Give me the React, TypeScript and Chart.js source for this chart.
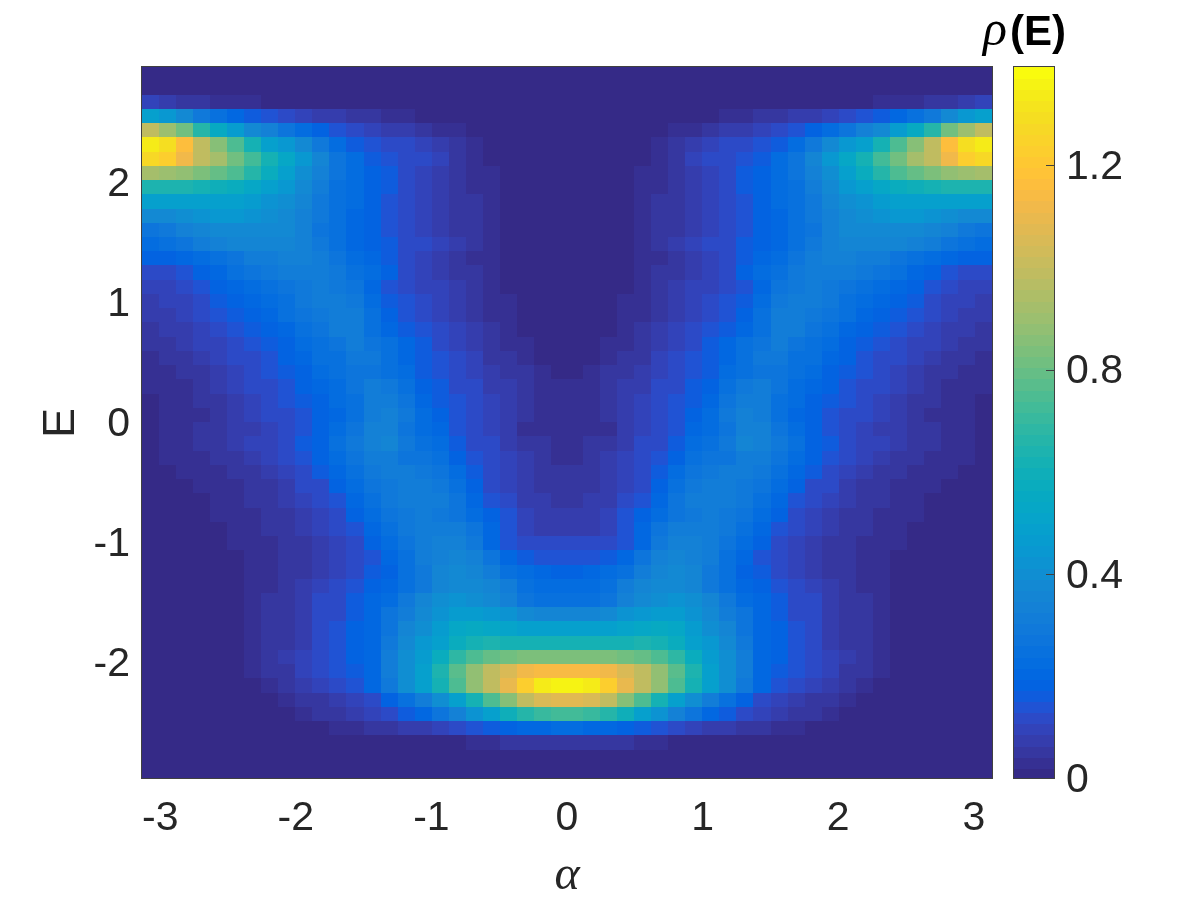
import React, { useEffect, useRef } from "react";
import { Chart, registerables } from "chart.js";

Chart.register(...registerables);

const alphaRange = [-Math.PI, Math.PI];
const energyRange = [-2.965, 2.965];
const rhoMax = 1.392;
const alphaTicks = [-3, -2, -1, 0, 1, 2, 3];
const energyTicks = [-2, -1, 0, 1, 2];
const rhoTicks = [0, 0.4, 0.8, 1.2];
const xTitle = "α";
const yTitle = "E";

// rho(E, alpha) x 100. One row per E step (top to bottom),
// each row from alpha = 0 out to alpha = pi. The picture is mirror-symmetric in alpha.
const rhoRows: number[][] = [
  [1,1,1,1,1,1,1,1,1,1,1,1,1,1,1,1,1,1,1,1,1,1,1,1,1],
  [1,1,1,1,1,1,1,1,1,1,1,1,1,1,1,1,1,1,1,1,1,1,1,1,1],
  [1,1,1,1,1,1,1,1,1,1,1,1,1,1,1,1,1,2,3,3,4,5,6,8,10],
  [1,1,1,1,1,1,1,1,2,3,4,5,6,7,8,9,11,14,16,20,24,29,38,44,48],
  [1,1,1,1,1,1,3,4,6,7,8,10,12,15,18,22,28,33,38,46,55,66,82,90,100],
  [1,1,1,1,2,3,5,7,9,11,13,15,17,23,30,38,44,50,62,74,86,100,116,130,133],
  [1,1,1,1,2,4,6,9,11,12,14,17,22,28,36,44,54,62,72,82,92,100,112,122,128],
  [1,1,1,1,3,4,6,8,9,12,16,19,23,28,34,40,50,57,66,75,80,84,88,90,92],
  [1,1,1,1,3,4,6,8,10,13,16,18,22,26,32,37,44,49,54,58,60,63,64,64,64],
  [1,1,1,1,3,5,6,8,10,13,15,18,22,26,30,35,40,43,46,48,49,50,50,49,48],
  [1,1,1,2,3,5,6,8,10,13,15,18,21,25,29,34,38,41,43,44,44,43,41,39,37],
  [1,1,1,2,3,5,6,8,10,13,15,18,21,24,28,33,37,39,39,39,38,36,33,30,28],
  [1,1,1,2,4,5,7,9,11,13,16,18,21,25,29,34,36,36,36,35,33,31,27,25,23],
  [1,1,1,1,3,4,6,7,9,11,17,20,23,27,31,33,33,32,31,28,25,23,20,19,18],
  [1,1,1,2,3,5,6,8,10,12,18,22,26,29,32,32,31,29,27,24,21,18,15,13,12],
  [1,1,1,2,4,5,7,9,10,12,15,21,27,30,31,30,28,25,23,20,18,15,12,10,9],
  [1,1,1,3,4,5,7,9,11,14,17,22,30,31,31,29,26,23,21,18,16,13,10,9,8],
  [1,1,2,3,4,6,8,10,12,15,18,24,31,31,30,27,24,21,18,16,14,11,9,8,7],
  [1,1,2,4,5,7,9,12,14,17,20,25,32,31,28,25,21,18,16,14,12,10,8,7,6],
  [1,2,3,4,6,8,10,13,16,20,24,28,31,28,26,23,19,17,14,12,10,9,7,6,5],
  [1,2,3,5,6,9,11,14,17,20,25,29,29,26,24,21,18,15,13,11,9,7,6,5,4],
  [1,3,5,6,7,10,12,14,17,22,26,28,28,25,22,19,16,14,12,10,8,6,5,4,3],
  [3,4,5,7,8,11,13,16,19,24,29,31,27,23,20,18,15,12,11,9,7,5,4,3,3],
  [3,4,6,7,9,12,14,17,21,27,31,31,26,22,19,16,14,11,10,8,6,5,4,3,2],
  [3,4,5,8,10,13,15,19,23,29,33,32,25,21,18,15,13,11,9,7,6,4,3,3,2],
  [3,3,4,7,10,12,14,20,23,28,34,33,27,22,18,15,12,10,8,7,6,5,4,3,2],
  [4,5,5,8,11,13,16,22,26,30,35,34,29,24,19,16,13,10,9,7,5,5,4,3,2],
  [4,5,7,9,11,14,19,25,27,28,31,31,27,23,18,15,12,9,8,6,5,4,3,3,1],
  [5,5,7,9,12,16,22,27,29,31,31,29,25,21,16,12,9,7,6,5,4,3,3,2,1],
  [5,6,7,10,13,18,24,29,31,32,30,28,23,18,13,11,8,6,5,4,3,3,2,1,1],
  [6,7,8,11,15,20,27,31,32,31,29,26,21,15,11,9,7,6,5,4,3,2,2,1,1],
  [7,7,9,14,18,22,27,30,31,30,28,23,18,13,10,8,6,5,4,3,3,2,1,1,1],
  [8,8,10,15,21,27,31,32,32,29,25,20,15,11,9,7,5,5,4,3,2,1,1,1,1],
  [11,11,12,14,21,29,33,33,31,28,23,18,13,10,8,6,5,4,3,3,2,1,1,1,1],
  [14,15,17,21,28,33,35,34,31,26,21,15,11,9,7,6,5,4,3,2,2,1,1,1,1],
  [19,20,22,26,31,36,37,35,30,25,19,17,13,10,8,6,5,4,3,1,1,1,1,1,1],
  [22,22,26,31,36,39,39,36,30,25,21,18,14,11,9,7,5,4,3,2,1,1,1,1,1],
  [26,26,28,33,37,40,42,41,36,30,23,20,17,13,11,8,6,5,3,2,1,1,1,1,1],
  [36,36,38,42,45,47,47,43,38,32,27,20,17,13,11,8,6,5,3,2,1,1,1,1,1],
  [48,49,50,52,54,55,53,47,41,35,28,20,18,14,11,8,6,5,3,2,1,1,1,1,1],
  [62,62,63,63,64,63,58,50,44,37,29,21,18,15,12,8,6,5,3,2,1,1,1,1,1],
  [84,84,83,82,80,75,68,57,47,40,31,21,18,15,12,9,7,5,3,2,1,1,1,1,1],
  [114,114,112,106,98,88,77,64,50,40,31,21,17,14,12,9,6,5,3,2,1,1,1,1,1],
  [136,133,122,110,100,88,76,62,50,40,30,20,15,12,9,7,5,3,2,1,1,1,1,1,1],
  [108,105,98,86,74,62,50,40,31,24,18,13,10,8,6,5,3,2,1,1,1,1,1,1,1],
  [72,70,66,59,50,42,34,27,21,16,12,9,8,6,5,4,2,1,1,1,1,1,1,1,1],
  [22,21,20,19,17,15,12,10,8,7,6,5,4,3,2,1,1,1,1,1,1,1,1,1,1],
  [6,6,5,5,4,3,2,2,1,1,1,1,1,1,1,1,1,1,1,1,1,1,1,1,1],
  [1,1,1,1,1,1,1,1,1,1,1,1,1,1,1,1,1,1,1,1,1,1,1,1,1],
  [1,1,1,1,1,1,1,1,1,1,1,1,1,1,1,1,1,1,1,1,1,1,1,1,1],
];

const PARULA: number[][] = [
  [0.2081,0.1663,0.5292],[0.2116,0.1898,0.5777],[0.2123,0.2138,0.627],[0.2081,0.2386,0.6771],
  [0.1959,0.2645,0.7279],[0.1707,0.2919,0.7792],[0.1253,0.3242,0.8303],[0.0591,0.3598,0.8683],
  [0.0117,0.3875,0.882],[0.006,0.4086,0.8828],[0.0165,0.4266,0.8786],[0.0329,0.443,0.872],
  [0.0498,0.4586,0.8641],[0.0629,0.4737,0.8554],[0.0723,0.4887,0.8467],[0.0779,0.504,0.8384],
  [0.0793,0.52,0.8312],[0.0749,0.5375,0.8263],[0.0641,0.557,0.824],[0.0488,0.5772,0.8228],
  [0.0343,0.5966,0.8199],[0.0265,0.6137,0.8135],[0.0239,0.6287,0.8038],[0.0231,0.6418,0.7913],
  [0.0228,0.6535,0.7768],[0.0267,0.6642,0.7607],[0.0384,0.6743,0.7436],[0.059,0.6838,0.7254],
  [0.0843,0.6928,0.7062],[0.1133,0.7015,0.6859],[0.1453,0.7098,0.6646],[0.1801,0.7177,0.6424],
  [0.2178,0.725,0.6193],[0.2586,0.7317,0.5954],[0.3022,0.7376,0.5712],[0.3482,0.7424,0.5473],
  [0.3953,0.7459,0.5244],[0.442,0.7481,0.5033],[0.4871,0.7491,0.484],[0.53,0.7491,0.4661],
  [0.5709,0.7485,0.4494],[0.6099,0.7473,0.4337],[0.6473,0.7456,0.4188],[0.6834,0.7435,0.4044],
  [0.7184,0.7411,0.3905],[0.7525,0.7384,0.3768],[0.7858,0.7356,0.3633],[0.8185,0.7327,0.3498],
  [0.8507,0.7299,0.336],[0.8824,0.7274,0.3217],[0.9139,0.7258,0.3063],[0.945,0.7261,0.2886],
  [0.9739,0.7314,0.2666],[0.9938,0.7455,0.2403],[0.999,0.7653,0.2164],[0.9955,0.7861,0.1967],
  [0.988,0.8066,0.1794],[0.9789,0.8271,0.1633],[0.9697,0.8481,0.1475],[0.9626,0.8705,0.1309],
  [0.9589,0.8949,0.1132],[0.9598,0.9218,0.0948],[0.9661,0.9514,0.0755],[0.9763,0.9831,0.0538],
];

const TEXT = "#262626";
const FRAME = "#404040";
const SANS = "'Liberation Sans', Arial, sans-serif";
const SERIF = "'Liberation Serif', serif";
const TICK_SIZE = 41;
const LABEL_NUDGE_Y = 2;

const colorOf = (v: number) => {
  const i = Math.min(63, Math.max(0, Math.floor((v / rhoMax) * 64)));
  const [r, g, b] = PARULA[i];
  return `rgb(${Math.round(r * 255)},${Math.round(g * 255)},${Math.round(b * 255)})`;
};

const tileCache = new Map<string, HTMLCanvasElement>();
const tile = (color: string, w: number, h: number) => {
  const key = `${color}|${w}|${h}`;
  let c = tileCache.get(key);
  if (!c) {
    c = document.createElement("canvas");
    c.width = w;
    c.height = h;
    const g = c.getContext("2d")!;
    g.fillStyle = color;
    g.fillRect(0, 0, w, h);
    tileCache.set(key, c);
  }
  return c;
};

const heatPoints = () => {
  const nRows = rhoRows.length;
  const nHalf = rhoRows[0].length;
  const dx = (alphaRange[1] - alphaRange[0]) / (2 * nHalf);
  const dy = (energyRange[1] - energyRange[0]) / nRows;
  const pts: { x: number; y: number; v: number }[] = [];
  rhoRows.forEach((row, r) => {
    const y = energyRange[1] - (r + 0.5) * dy;
    row.forEach((c, k) => {
      const a = (k + 0.5) * dx;
      pts.push({ x: a, y, v: c / 100 });
      pts.push({ x: -a, y, v: c / 100 });
    });
  });
  return pts;
};

// Vertical tick labels sit a little below their tick in the reference.
const nudgeLabels = (s: any) => {
  if (s.__nudged) return;
  s.__nudged = true;
  const orig = s.getLabelItems.bind(s);
  s.getLabelItems = (area: any) =>
    orig(area).map((it: any) => ({
      ...it,
      options: {
        ...it.options,
        translation: [it.options.translation[0], it.options.translation[1] + LABEL_NUDGE_Y],
      },
    }));
};

const frame = {
  id: "frame",
  afterDatasetsDraw(chart: any) {
    const { left, top, right, bottom } = chart.chartArea;
    const g = chart.ctx;
    g.save();
    g.strokeStyle = FRAME;
    g.lineWidth = 1;
    g.strokeRect(left + 0.5, top - 0.5, right - left - 1, bottom - top);
    g.restore();
  },
};

const colorbarExtras = {
  id: "colorbarExtras",
  afterDatasetsDraw(chart: any) {
    const { right, top } = chart.chartArea;
    const scale = chart.scales.y;
    const g = chart.ctx;
    g.save();
    g.strokeStyle = FRAME;
    g.lineWidth = 1;
    rhoTicks.forEach((t) => {
      if (t === 0) return;
      const y = Math.round(scale.getPixelForValue(t)) + 0.5;
      g.beginPath();
      g.moveTo(right - 9, y);
      g.lineTo(right, y);
      g.stroke();
    });
    g.fillStyle = "#000";
    g.textBaseline = "alphabetic";
    g.textAlign = "left";
    g.font = `italic 50px ${SERIF}`;
    g.fillText("ρ", 23, top - 22);
    g.font = `bold 42px ${SANS}`;
    g.fillText("(E)", 50, top - 22);
    g.restore();
  },
};

export default function App() {
  const mainRef = useRef<HTMLCanvasElement>(null);
  const barRef = useRef<HTMLCanvasElement>(null);

  useEffect(() => {
    document.body.style.margin = "0";
    const main = new Chart(mainRef.current!, {
      type: "scatter",
      data: {
        datasets: [
          {
            data: heatPoints(),
            clip: 0,
            pointStyle: (c: any) => tile(colorOf(c.raw.v), 19, 16),
            pointRadius: 10,
            pointBorderWidth: 0,
          } as any,
        ],
      },
      options: {
        responsive: false,
        animation: false,
        events: [],
        layout: { padding: { left: 0, top: 67, right: 207, bottom: 0 } },
        plugins: { legend: { display: false }, tooltip: { enabled: false }, title: { display: false } },
        scales: {
          x: {
            type: "linear",
            min: alphaRange[0],
            max: alphaRange[1],
            afterBuildTicks: (s: any) => {
              s.ticks = alphaTicks.map((value) => ({ value }));
            },
            afterFit: (s: any) => {
              s.height = 121;
            },
            grid: { display: false },
            border: { display: false },
            ticks: {
              autoSkip: false,
              maxRotation: 0,
              padding: 7,
              color: TEXT,
              font: { family: SANS, size: TICK_SIZE },
              callback: (v: any) => String(v),
            },
            title: {
              display: true,
              text: xTitle,
              color: TEXT,
              font: { family: SERIF, size: 48, style: "italic", weight: "normal", lineHeight: 1 },
              padding: { top: 0, bottom: 0 },
            },
          },
          y: {
            type: "linear",
            min: energyRange[0],
            max: energyRange[1],
            afterBuildTicks: (s: any) => {
              s.ticks = energyTicks.map((value) => ({ value }));
            },
            afterFit: (s: any) => {
              s.width = 141;
            },
            afterUpdate: nudgeLabels,
            grid: { display: false },
            border: { display: false },
            ticks: {
              autoSkip: false,
              padding: 3,
              color: TEXT,
              font: { family: SANS, size: TICK_SIZE },
              callback: (v: any) => String(v),
            },
            title: {
              display: true,
              text: yTitle,
              color: TEXT,
              font: { family: SANS, size: 45, weight: "normal" },
              padding: { top: 35, bottom: 0 },
            },
          },
        },
      },
      plugins: [frame],
    } as any);

    const bands = PARULA.map((_, i) => ({ x: 0, y: ((i + 0.5) * rhoMax) / 64, v: ((i + 0.5) * rhoMax) / 64 }));
    const bar = new Chart(barRef.current!, {
      type: "scatter",
      data: {
        datasets: [
          {
            data: bands,
            clip: 0,
            pointStyle: (c: any) => tile(colorOf(c.raw.v), 46, 13),
            pointRadius: 10,
            pointBorderWidth: 0,
          } as any,
        ],
      },
      options: {
        responsive: false,
        animation: false,
        events: [],
        layout: { padding: { left: 53, top: 67, right: 0, bottom: 121 } },
        plugins: { legend: { display: false }, tooltip: { enabled: false }, title: { display: false } },
        scales: {
          x: { type: "linear", min: -1, max: 1, display: false },
          y: {
            type: "linear",
            position: "right",
            min: 0,
            max: rhoMax,
            afterBuildTicks: (s: any) => {
              s.ticks = rhoTicks.map((value) => ({ value }));
            },
            afterFit: (s: any) => {
              s.width = 145;
            },
            afterUpdate: nudgeLabels,
            grid: { display: false },
            border: { display: false },
            ticks: {
              autoSkip: false,
              padding: 3,
              color: TEXT,
              font: { family: SANS, size: TICK_SIZE },
              callback: (v: any) => String(v),
            },
          },
        },
      },
      plugins: [frame, colorbarExtras],
    } as any);

    return () => {
      main.destroy();
      bar.destroy();
    };
  }, []);

  return (
    <div style={{ position: "fixed", left: 0, top: 0, width: 1200, height: 900, background: "#fff" }}>
      <canvas ref={mainRef} width={1200} height={900} style={{ position: "absolute", left: 0, top: 0 }} />
      <canvas ref={barRef} width={240} height={900} style={{ position: "absolute", left: 960, top: 0 }} />
    </div>
  );
}
